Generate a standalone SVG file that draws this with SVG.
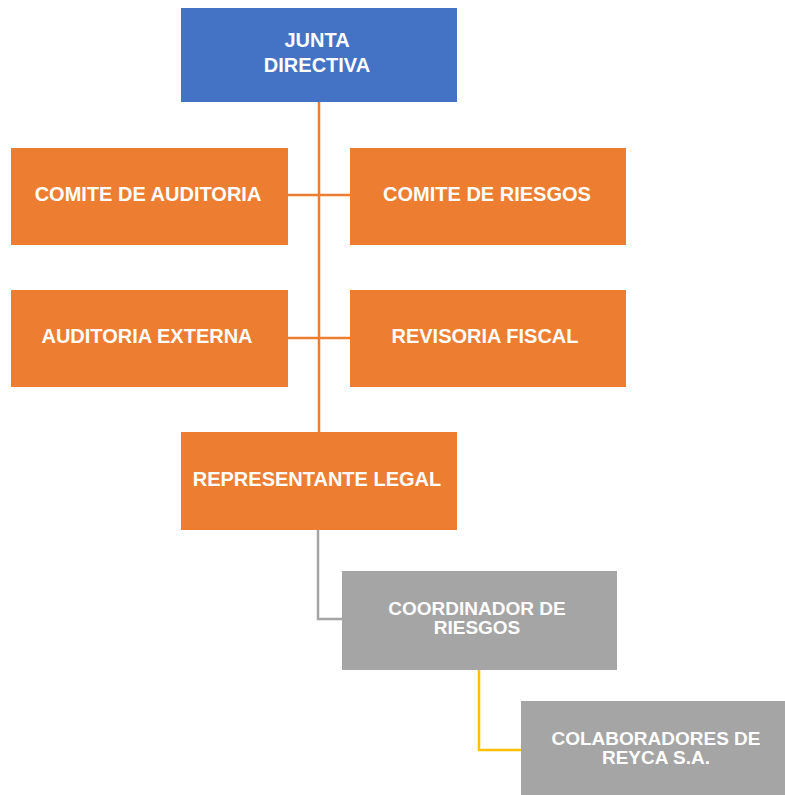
<svg xmlns="http://www.w3.org/2000/svg" width="785" height="795" viewBox="0 0 785 795">
<style>
.t{font-family:"Liberation Sans",Arial,sans-serif;font-weight:bold;font-size:20px;fill:#FFFFFF;text-anchor:middle}
.s{font-size:19px}
.o{fill:#ED7D31}
.b{fill:#4472C4}
.g{fill:#A5A5A5}
.c{fill:none;stroke-width:2.5}
</style>
<rect width="785" height="795" fill="#FFFFFF"/>
<g id="connectors">
<line class="c" x1="319" y1="102" x2="319" y2="432" stroke="#ED7D31"/>
<line class="c" x1="288" y1="195" x2="350" y2="195" stroke="#ED7D31" stroke-width="2"/>
<line class="c" x1="288" y1="338" x2="350" y2="338" stroke="#ED7D31" stroke-width="2"/>
<polyline class="c" points="318,530 318,619 342,619" stroke="#A5A5A5"/>
<polyline class="c" points="479,670 479,750 521,750" stroke="#FFC000"/>
</g>
<g id="junta">
<rect class="b" x="181" y="8" width="276" height="94"/>
<text class="t" x="317" y="47">JUNTA</text>
<text class="t" x="317" y="72">DIRECTIVA</text>
</g>
<g id="comite-auditoria">
<rect class="o" x="11" y="148" width="277" height="97"/>
<text class="t" x="148" y="201">COMITE DE AUDITORIA</text>
</g>
<g id="comite-riesgos">
<rect class="o" x="350" y="148" width="276" height="97"/>
<text class="t" x="487" y="201">COMITE DE RIESGOS</text>
</g>
<g id="auditoria-externa">
<rect class="o" x="11" y="290" width="277" height="97"/>
<text class="t" x="147" y="343">AUDITORIA EXTERNA</text>
</g>
<g id="revisoria-fiscal">
<rect class="o" x="350" y="290" width="276" height="97"/>
<text class="t" x="485" y="343">REVISORIA FISCAL</text>
</g>
<g id="representante-legal">
<rect class="o" x="181" y="432" width="276" height="98"/>
<text class="t" x="317" y="486">REPRESENTANTE LEGAL</text>
</g>
<g id="coordinador">
<rect class="g" x="342" y="571" width="275" height="99"/>
<text class="t s" x="477" y="615">COORDINADOR DE</text>
<text class="t s" x="477" y="634">RIESGOS</text>
</g>
<g id="colaboradores">
<rect class="g" x="521" y="701" width="276" height="96"/>
<text class="t s" x="656" y="745">COLABORADORES DE</text>
<text class="t s" x="656" y="764">REYCA S.A.</text>
</g>
</svg>
